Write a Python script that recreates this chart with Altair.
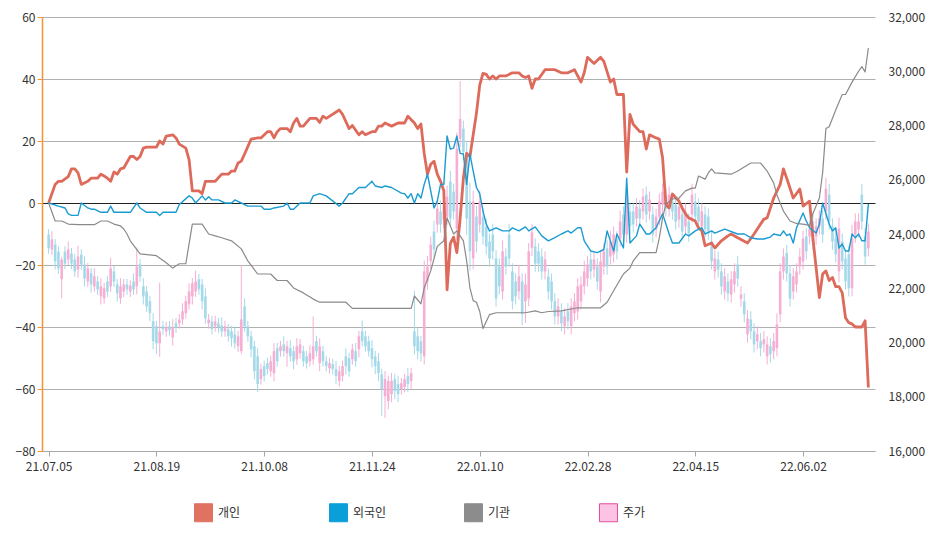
import altair as alt
import pandas as pd

FONT = "Noto Sans CJK KR"

X_LABELS = ["21.07.05", "21.08.19", "21.10.08", "21.11.24", "22.01.10", "22.02.28", "22.04.15", "22.06.02"]
X_STEP = 33
N_DAYS = 252

SERIES = ["개인", "외국인", "기관", "주가"]
FILL_COLORS = ["#e07262", "#0a9fd9", "#8c8c8c", "#fcc3e5"]
STROKE_COLORS = ["#e07262", "#0a9fd9", "#8c8c8c", "#e0509a"]
CANDLE_UP = "#f6aed3"
CANDLE_DOWN = "#a4d9e9"

RED_IDX = [0, 2, 3, 4, 6, 7, 8, 9, 10, 12, 13, 15, 16, 17, 18, 19, 20, 21, 22, 23, 25, 26, 27, 28, 29, 30, 33, 34, 35, 36, 38, 39, 40, 42, 43, 44, 46, 47, 48, 51, 53, 55, 56, 57, 58, 59, 60, 62, 64, 65, 67, 68, 69, 70, 71, 73, 74, 75, 76, 77, 78, 80, 82, 83, 84, 85, 89, 90, 92, 93, 95, 96, 97, 99, 100, 101, 102, 103, 105, 107, 109, 110, 112, 113, 114, 115, 116, 117, 118, 119, 120, 121, 122, 123, 124, 125, 126, 127, 128, 129, 130, 131, 132, 133, 134, 135, 136, 137, 138, 140, 142, 144, 145, 146, 147, 148, 149, 150, 152, 155, 157, 159, 161, 163, 164, 165, 167, 169, 170, 172, 173, 174, 176, 177, 178, 179, 181, 182, 183, 184, 186, 187, 188, 189, 190, 191, 193, 194, 195, 196, 198, 199, 200, 201, 203, 204, 206, 208, 209, 211, 214, 216, 217, 219, 220, 222, 224, 225, 226, 228, 230, 231, 233, 234, 236, 237, 238, 239, 240, 241, 242, 243, 244, 245, 246, 247, 248, 249, 250, 251]
RED_VAL = [0, 6, 7, 7, 8.5, 11, 11, 9.7, 6, 7, 8, 8, 9.3, 8.7, 8, 7, 10, 9.3, 11, 11.3, 15, 15, 14, 15, 17.7, 18, 18, 20, 19, 21.6, 22, 21, 19, 17.7, 14, 3.9, 3.9, 3, 7, 7, 9.3, 9.3, 10.3, 10.3, 12.9, 13.5, 15.8, 20.6, 21, 21, 23, 23, 21, 23, 24, 24, 23, 25.8, 27.3, 24.8, 24.8, 27.3, 27.3, 26, 28, 27.3, 30, 28.6, 24, 25, 22, 23, 22, 23, 23, 24.8, 24.8, 25.8, 24.8, 25.8, 25.8, 28, 25.8, 24, 25.5, 16, 9.3, 12.5, 13.5, 9.3, 7, 4, -28, -13, -11, -16, -5, 8, 16, 15, 22, 29, 38, 41.8, 41.5, 40, 41, 40, 41, 41, 42, 42, 41, 40.5, 41, 37, 40, 40, 43, 43, 42, 42, 43, 39, 42, 47, 45, 47, 45.7, 39, 40, 35, 35, 10, 28.6, 25.4, 23, 23, 17.4, 22, 21, 20.6, 14.5, -0.5, -1.6, 2.9, 0.6, -1.6, -3.5, -4.8, -5.8, -8, -9, -13.8, -12.9, -14.5, -12.2, -10.6, -10, -11.2, -12.9, -10, -8.4, -5.2, -4.8, 1.6, 6, 11, 8, 1.6, 4.5, -1, 0.6, -11.2, -30.5, -22.9, -21.9, -25, -24, -27, -27, -29, -37, -38.6, -39, -40, -40, -40, -38, -59.5]

BLUE_IDX = [0, 3, 5, 6, 7, 9, 10, 12, 13, 14, 16, 18, 19, 20, 22, 25, 27, 28, 30, 33, 34, 35, 39, 40, 43, 44, 45, 47, 48, 49, 50, 52, 54, 56, 57, 59, 61, 65, 66, 68, 69, 72, 73, 74, 75, 77, 80, 81, 83, 85, 89, 90, 92, 93, 95, 97, 99, 100, 102, 103, 105, 108, 109, 110, 111, 112, 113, 114, 115, 116, 118, 119, 120, 121, 122, 123, 124, 125, 126, 127, 128, 129, 130, 131, 132, 133, 134, 135, 137, 139, 141, 142, 144, 146, 147, 149, 151, 153, 155, 157, 159, 160, 162, 163, 164, 166, 168, 170, 171, 173, 174, 176, 177, 178, 180, 181, 183, 184, 186, 188, 190, 191, 193, 195, 196, 198, 200, 201, 203, 204, 207, 211, 213, 215, 217, 219, 221, 222, 224, 225, 226, 227, 228, 229, 231, 232, 233, 235, 236, 237, 239, 240, 241, 242, 243, 244, 245, 246, 247, 248, 249, 250, 251]
BLUE_VAL = [0, -1, -1.6, -3.5, -4, -4, 0, -1.6, -2, -2, -3, -3, -1, -3, -3, -3, 0, -1.6, -3, -3, -4, -3, -3, -0.5, 2.3, 1.6, 0, 2.3, 1, 2, 1, 1, 0, 0, 1, 0, -1, -1, -2, -2, -1.6, -1, 0, -2, -2, 0, 0, 2.3, 3, 2.3, -1, 0, 3, 3, 5, 5, 7, 5.5, 5, 5.5, 5, 3.2, 3, 1.6, 3, 0, 3, 1.6, 6, 9.3, -1.6, 0.6, 6, 6, 21.6, 17.4, 17.7, 21.6, 16, 15.8, 6, 15.8, 10.3, 5, 3, -2.6, -6.8, -9, -8, -9, -9, -8, -9, -7.7, -9, -7.7, -10.6, -12.2, -11.2, -10, -9, -9.7, -8, -8, -12.2, -15.5, -16, -15, -9, -15.5, -10, -14.5, 8, -12.9, -10.6, -6.8, -10, -10, -8, -3.5, -10, -12.9, -12.9, -10, -10.6, -9, -8, -10, -9, -9.7, -8.4, -10, -10, -11.2, -11.6, -11.6, -11, -10, -10.5, -9, -10.5, -10, -12.9, -8, -3.2, -5.8, -8, -9.7, -6.8, 0, -6.8, -9, -8, -14.5, -13.2, -15.5, -15.5, -10, -11.2, -10, -12.2, -12.2, -0.3]

GRAY_IDX = [0, 2, 4, 6, 9, 14, 16, 18, 20, 22, 23, 24, 25, 28, 33, 36, 38, 40, 42, 43, 44, 47, 49, 51, 53, 56, 59, 61, 64, 68, 70, 73, 75, 78, 81, 83, 91, 93, 111, 112, 114, 115, 117, 119, 121, 122, 124, 125, 127, 128, 129, 130, 131, 132, 133, 135, 137, 146, 149, 151, 153, 157, 162, 169, 171, 173, 176, 178, 179, 181, 186, 187, 188, 189, 191, 193, 195, 197, 198, 199, 201, 202, 203, 204, 209, 211, 215, 218, 220, 222, 223, 225, 227, 229, 232, 233, 234, 236, 237, 238, 239, 241, 243, 244, 246, 248, 249, 250, 251]
GRAY_VAL = [0, -5.8, -5.8, -6.8, -7, -7, -5.8, -5.8, -6.8, -7.4, -8.4, -10, -12.2, -16.4, -17, -19.3, -21, -19.6, -19.6, -13.2, -6.8, -6.8, -10, -10.6, -11.2, -12.2, -14.8, -18.7, -22.9, -22.9, -25, -25, -27.4, -29, -31, -32, -32, -34, -34, -30, -32.5, -27.4, -21.9, -14, -12.2, -4.8, -10, -9, -12.2, -18.7, -27.4, -31.5, -32, -35, -40.5, -36, -35.4, -35.4, -34.8, -35.4, -35, -34.8, -33.8, -33.8, -32, -28.3, -22.9, -21, -18.7, -16, -16, -11.2, -4.8, -0.3, 1.3, 1.6, 3.9, 4.8, 4.8, 8.7, 7.7, 9.7, 11, 9.7, 9.3, 10.3, 12.9, 12.9, 10.3, 6.5, 2.6, -2.6, -5.8, -6.6, -7, -7.4, -3.5, 1.6, 9.8, 24, 24.6, 30, 35, 35, 39, 42.5, 44, 42.3, 50]

OPEN = [
    23980, 23430, 23610, 23350, 22330, 23350, 23060, 23280, 23060, 22690,
    23240, 22880, 22250, 22550, 22070, 22250, 21700, 21630, 22250, 22070,
    22620, 22140, 21630, 21880, 22140, 21880, 22250, 22070, 22880, 22070,
    21880, 21520, 20780, 20600, 19970, 20600, 20410, 20600, 20190, 20710,
    20710, 20850, 21080, 21410, 21700, 21880, 22330, 22140, 21700, 20710,
    20780, 20600, 20710, 20630, 20410, 20490, 20410, 20300, 19860, 19680,
    21330, 20600, 20230, 19860, 19490, 18650, 19130, 19240, 18940, 18870,
    19790, 19680, 19930, 19600, 19790, 19680, 19380, 19600, 19680, 19490,
    19310, 19380, 20050, 19240, 19680, 19310, 19050, 19200, 19020, 18580,
    18760, 19490, 19420, 19380, 19680, 19750, 20410, 20230, 20050, 19790,
    19490, 19310, 18830, 18020, 17840, 18100, 18650, 18470, 18280, 18360,
    18760, 18580, 20410, 20230, 20050, 19490, 22250, 23000, 24090, 24350,
    24830, 24530, 24640, 25930, 25560, 24200, 27510, 27880, 27030, 25200,
    23100, 24640, 24350, 24640, 24270, 23720, 23980, 23100, 22800, 21880,
    23170, 23980, 22620, 22250, 21880, 22250, 21520, 21630, 23490, 23540,
    23360, 23170, 22620, 22430, 22250, 21520, 20960, 21150, 20600, 21150,
    20600, 21080, 21150, 21520, 22070, 22360, 23060, 22690, 22800, 21880,
    22800, 23470, 23170, 23250, 23800, 23840, 24720, 23980, 24830, 24830,
    24570, 24940, 24830, 25450, 24830, 24720, 24170, 24640, 25080, 25380,
    24940, 25200, 25080, 24530, 24720, 24280, 24460, 24720, 25200, 25010,
    24280, 24720, 24640, 23720, 22620, 23060, 22620, 21880, 22250, 21770,
    22140, 22880, 21620, 21520, 20300, 20850, 20410, 20050, 20050, 19930,
    19490, 19860, 19680, 19790, 21040, 22620, 23300, 22550, 21880, 22140,
    22800, 22990, 23910, 23910, 24460, 23910, 24280, 24570, 24830, 25450,
    24280, 23840, 22620, 23720, 23100, 23250, 22000, 23980, 24170, 25450,
    23910, 23470,
]
CLOSE = [
    23470, 23800, 22990, 22730, 23060, 22910, 23430, 22910, 22620, 23170,
    22880, 22360, 22730, 22140, 22440, 21960, 22070, 22000, 21880, 22730,
    22250, 21810, 22070, 22140, 21960, 22100, 21960, 22800, 22440, 21700,
    21330, 21080, 20050, 19970, 20410, 20490, 20560, 20450, 20560, 20560,
    20850, 21150, 21520, 21880, 22180, 22250, 21960, 21520, 20890, 20850,
    20490, 20780, 20560, 20410, 20600, 20230, 20150, 19970, 20230, 20850,
    20600, 20230, 19750, 18940, 18470, 19020, 18760, 19020, 19310, 19680,
    19310, 19860, 19680, 19860, 19490, 19310, 19860, 19930, 19310, 19240,
    19600, 19860, 19680, 19860, 19310, 19130, 19240, 19020, 18760, 18940,
    19130, 19130, 18940, 19750, 19310, 20230, 20050, 19860, 19680, 19380,
    19130, 18870, 18280, 18650, 18580, 18580, 18210, 18100, 18500, 18650,
    18470, 18870, 19860, 19680, 19600, 22620, 22800, 23610, 23430, 24940,
    24350, 25010, 25380, 24570, 24830, 27140, 28240, 27030, 24570, 23360,
    25200, 23720, 25200, 23910, 23540, 23100, 23360, 21620, 22070, 23360,
    22800, 23100, 21520, 21700, 22440, 21040, 22140, 23360, 24060, 22910,
    22910, 22620, 23060, 21880, 21520, 20960, 21330, 20710, 20960, 20780,
    21330, 21520, 22070, 22140, 22620, 22880, 22620, 23060, 22250, 22990,
    23360, 22800, 23720, 23980, 23360, 24460, 23980, 25450, 24280, 24350,
    25010, 24570, 25380, 24720, 25270, 23980, 24640, 25200, 25560, 24940,
    25450, 24830, 24460, 25010, 24090, 24830, 24020, 25450, 24640, 24460,
    24830, 24170, 24090, 22990, 23100, 22690, 22070, 22440, 21810, 22330,
    22620, 22360, 21770, 21040, 20890, 20410, 19930, 20300, 19790, 20120,
    19930, 19570, 20050, 20670, 22620, 23170, 22550, 21620, 22440, 22620,
    23170, 23830, 23360, 24200, 23720, 24280, 24570, 23980, 25670, 24460,
    23720, 23250, 24200, 22990, 22250, 22000, 23840, 24460, 24460, 24460,
    23170, 24090,
]
# upper / lower shadow lengths, in hundreds of won
WICK_UP = [
    2, 3, 2, 2, 1, 2, 3, 2, 2, 4,
    2, 3, 2, 2, 3, 2, 3, 2, 2, 4,
    2, 2, 3, 2, 2, 2, 3, 7, 2, 3,
    2, 2, 3, 2, 18, 2, 2, 2, 3, 2,
    2, 3, 2, 3, 2, 4, 2, 2, 3, 2,
    2, 2, 2, 3, 2, 2, 2, 3, 2, 20,
    3, 2, 2, 2, 3, 2, 2, 2, 2, 3,
    2, 2, 3, 2, 3, 2, 3, 2, 2, 2,
    3, 11, 2, 3, 2, 2, 2, 2, 3, 2,
    2, 3, 2, 2, 3, 2, 4, 2, 2, 3,
    2, 3, 2, 3, 2, 3, 2, 3, 2, 2,
    3, 2, 15, 3, 2, 4, 4, 3, 4, 3,
    4, 3, 4, 4, 3, 6, 14, 3, 4, 7,
    4, 4, 4, 3, 3, 3, 4, 3, 3, 4,
    3, 4, 3, 3, 4, 3, 4, 3, 3, 3,
    3, 3, 3, 3, 3, 3, 3, 3, 3, 3,
    3, 3, 3, 3, 4, 3, 3, 3, 3, 4,
    3, 3, 4, 3, 3, 4, 3, 4, 3, 3,
    3, 3, 3, 3, 3, 3, 3, 3, 3, 3,
    3, 3, 3, 3, 3, 3, 3, 4, 3, 3,
    3, 3, 3, 4, 3, 3, 3, 3, 3, 3,
    3, 3, 3, 3, 3, 3, 3, 3, 3, 3,
    3, 3, 3, 4, 3, 3, 3, 3, 3, 3,
    3, 3, 3, 3, 3, 3, 3, 3, 4, 4,
    3, 3, 4, 3, 3, 3, 5, 3, 3, 4,
    3, 3,
]
WICK_DN = [
    2, 2, 3, 2, 7, 2, 2, 2, 2, 3,
    2, 3, 2, 3, 2, 2, 3, 2, 2, 2,
    2, 3, 2, 2, 2, 2, 2, 3, 2, 3,
    2, 3, 3, 4, 5, 2, 2, 2, 3, 2,
    2, 2, 2, 2, 3, 2, 2, 3, 2, 2,
    2, 2, 2, 2, 2, 2, 3, 2, 2, 1,
    2, 2, 3, 3, 3, 2, 2, 2, 2, 3,
    2, 2, 2, 5, 2, 3, 2, 2, 2, 2,
    2, 2, 2, 3, 2, 2, 2, 2, 3, 2,
    2, 3, 2, 2, 2, 3, 2, 2, 2, 3,
    3, 3, 10, 8, 3, 3, 3, 3, 2, 2,
    3, 3, 3, 3, 3, 3, 3, 3, 3, 3,
    3, 3, 3, 3, 3, 4, 3, 3, 6, 7,
    4, 4, 3, 3, 3, 3, 3, 3, 3, 3,
    3, 3, 3, 3, 3, 4, 8, 3, 3, 3,
    3, 3, 3, 3, 3, 3, 3, 3, 3, 3,
    3, 3, 3, 3, 3, 3, 3, 3, 3, 4,
    3, 3, 3, 3, 3, 3, 3, 3, 3, 3,
    3, 3, 3, 3, 3, 3, 3, 3, 3, 3,
    3, 3, 3, 3, 3, 3, 3, 3, 3, 3,
    3, 3, 3, 3, 3, 3, 3, 3, 3, 3,
    3, 3, 3, 3, 3, 3, 3, 3, 3, 3,
    3, 3, 3, 3, 3, 3, 3, 3, 3, 3,
    3, 3, 3, 3, 3, 3, 3, 3, 3, 3,
    3, 3, 4, 3, 3, 3, 3, 3, 3, 3,
    3, 3,
]

# ---------- tables ----------
n = min(len(OPEN), len(CLOSE), len(WICK_UP), len(WICK_DN))
candles = pd.DataFrame({
    "i": list(range(n)),
    "o": OPEN[:n],
    "c": CLOSE[:n],
    "h": [max(o, c) + u * 100 for o, c, u in zip(OPEN[:n], CLOSE[:n], WICK_UP[:n])],
    "l": [min(o, c) - d * 100 for o, c, d in zip(OPEN[:n], CLOSE[:n], WICK_DN[:n])],
    "dir": ["up" if c >= o else "down" for o, c in zip(OPEN[:n], CLOSE[:n])],
})

def line_df(idx, val):
    m = min(len(idx), len(val))
    return pd.DataFrame({"i": idx[:m], "v": val[:m]})

red_df = line_df(RED_IDX, RED_VAL)
blue_df = line_df(BLUE_IDX, BLUE_VAL)
gray_df = line_df(GRAY_IDX, GRAY_VAL)
legend_df = pd.DataFrame({"series": SERIES})

# ---------- scales & axes ----------
x_scale = alt.Scale(domain=[-0.5, N_DAYS - 0.5], nice=False, zero=False)
label_js = "[" + ",".join("'" + s + "'" for s in X_LABELS) + "]"
x_axis = alt.Axis(
    values=[k * X_STEP for k in range(len(X_LABELS))],
    labelExpr=label_js + "[round(datum.value / " + str(X_STEP) + ")]",
    title=None, grid=False, domainColor="#a8a8a8", domainWidth=1,
    tickColor="#a8a8a8", tickSize=5, labelPadding=5, labelFontSize=12,
    labelColor="#333333", labelFont=FONT, labelFlush=False, labelOverlap=False,
)
X = alt.X("i:Q", scale=x_scale, axis=x_axis)

price_scale = alt.Scale(domain=[16000, 32000], nice=False, zero=False)
price_axis = alt.Axis(
    orient="right", values=list(range(16000, 32001, 2000)), format=",.0f",
    domain=False, ticks=False, grid=False, labelPadding=13, labelFontSize=12,
    labelColor="#333333", labelFont=FONT, title=None,
)

left_scale = alt.Scale(domain=[-80, 60], nice=False, zero=False)
left_axis = alt.Axis(
    orient="left", values=list(range(-80, 61, 20)), title=None,
    grid=True, gridWidth=1,
    gridColor={"condition": {"test": "datum.value === 0", "value": "#222222"}, "value": "#b0b0b0"},
    domainColor="#f39437", domainWidth=1.5, tickColor="#f39437", tickSize=5,
    labelPadding=2, labelFontSize=12, labelColor="#333333", labelFont=FONT,
)

candle_color = alt.Color("dir:N", scale=alt.Scale(domain=["up", "down"], range=[CANDLE_UP, CANDLE_DOWN]), legend=None)

wicks = alt.Chart(candles).mark_rule(strokeWidth=1).encode(
    x=X,
    y=alt.Y("l:Q", scale=price_scale, axis=price_axis),
    y2="h:Q",
    color=candle_color,
)
bodies = alt.Chart(candles).mark_bar(size=2.6).encode(
    x=X,
    y=alt.Y("o:Q", scale=price_scale, axis=price_axis),
    y2="c:Q",
    color=candle_color,
)
candle_layer = alt.layer(wicks, bodies)

def series_line(df, color, width):
    return alt.Chart(df).mark_line(color=color, strokeWidth=width, strokeJoin="round").encode(
        x=X,
        y=alt.Y("v:Q", scale=left_scale, axis=left_axis),
    )

red_line = series_line(red_df, "#dd6a5a", 2.8)
blue_line = series_line(blue_df, "#1a9bd2", 1.4)
gray_line = series_line(gray_df, "#8a8a8a", 1.2)

leg = alt.Legend(
    orient="none", legendX=152, legendY=486, direction="horizontal", title=None,
    symbolType="square", symbolSize=324, symbolStrokeWidth=1, symbolOpacity=1,
    labelFontSize=12, labelFont=FONT, labelColor="#333333", labelOffset=5,
    columnPadding=75, gridAlign="all", padding=0, columns=4,
)
legend_layer = alt.Chart(legend_df).mark_square(size=324, filled=True, strokeWidth=1, opacity=1).encode(
    fill=alt.Fill("series:N", scale=alt.Scale(domain=SERIES, range=FILL_COLORS), legend=leg),
    stroke=alt.Stroke("series:N", scale=alt.Scale(domain=SERIES, range=STROKE_COLORS), legend=leg),
).transform_filter("false")

line_layer = alt.layer(red_line, blue_line, gray_line, legend_layer)

chart = alt.layer(candle_layer, line_layer).resolve_scale(y="independent").properties(
    width=833, height=434,
    padding={"left": 34, "top": 9, "right": 58, "bottom": 78},
    autosize=alt.AutoSizeParams(type="none"),
    background="white",
).configure_view(strokeWidth=0)

chart.save("out.html", embed_options={"renderer": "svg", "actions": False})
